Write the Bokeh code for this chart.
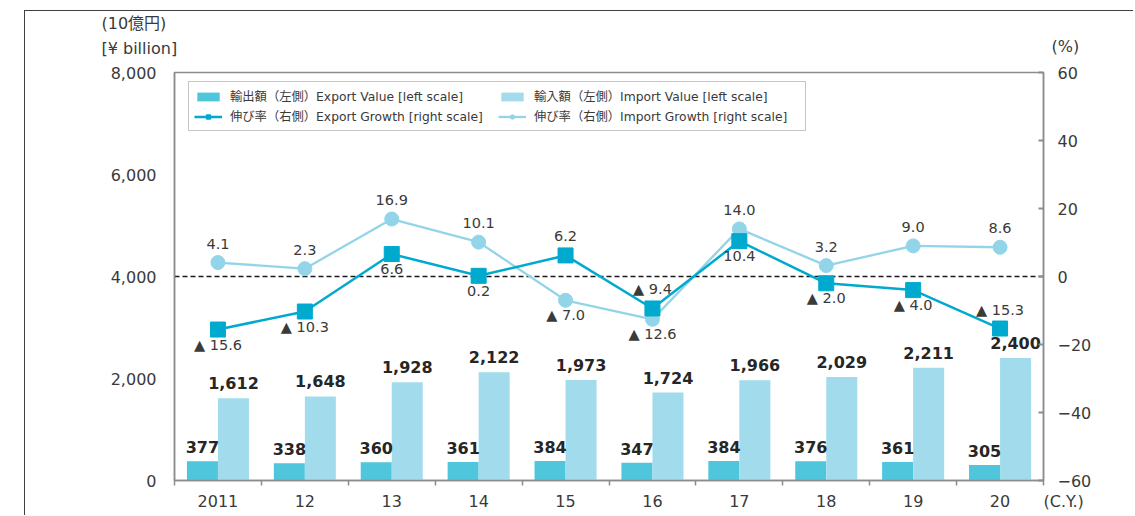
from bokeh.plotting import figure
from bokeh.models import (Range1d, LinearAxis, FixedTicker, Span, Label, Legend,
                          LegendItem, ColumnDataSource, NumeralTickFormatter)
from bokeh.transform import dodge
from bokeh.core.properties import value
from bokeh.embed import file_html
from bokeh.resources import INLINE

# ---------------- data ----------------
years = ["2011", "12", "13", "14", "15", "16", "17", "18", "19", "20"]
export_value = [377, 338, 360, 361, 384, 347, 384, 376, 361, 305]
import_value = [1612, 1648, 1928, 2122, 1973, 1724, 1966, 2029, 2211, 2400]
export_growth = [-15.6, -10.3, 6.6, 0.2, 6.2, -9.4, 10.4, -2.0, -4.0, -15.3]
import_growth = [4.1, 2.3, 16.9, 10.1, -7.0, -12.6, 14.0, 3.2, 9.0, 8.6]
export_label_above = [False, False, False, False, True, True, False, False, False, True]
import_label_above = [True, True, True, True, False, False, True, True, True, True]
left_ticks = [0, 2000, 4000, 6000, 8000]
right_ticks = [-60, -40, -20, 0, 20, 40, 60]

legend_labels = [
    "輸出額（左側）Export Value [left scale]",
    "輸入額（左側）Import Value [left scale]",
    "伸び率（右側）Export Growth [right scale]",
    "伸び率（右側）Import Growth [right scale]",
]

# ---------------- styles ----------------
FONT = "DejaVu Sans, Noto Sans CJK JP"
TXT = "#3a3a3a"
AX = "#8c8c8c"
C_EXP_BAR = "#4fc6dc"
C_IMP_BAR = "#a2dcec"
C_EXP_LINE = "#00a9ce"
C_IMP_LINE = "#93d5e8"


def fmt_pct(v):
    return f"▲ {abs(v):.1f}" if v < 0 else f"{v:.1f}"


idx = list(range(len(years)))
src = ColumnDataSource(dict(
    x=idx,
    exp=export_value,
    imp=import_value,
    exp_lbl=[f"{v:,}" for v in export_value],
    imp_lbl=[f"{v:,}" for v in import_value],
    eg=export_growth,
    ig=import_growth,
))

p = figure(width=1109, height=505,
           x_range=Range1d(-0.5, len(years) - 0.5), y_range=Range1d(0, 8000),
           output_backend="svg", toolbar_location=None,
           min_border_left=149, min_border_right=91, min_border_top=61, min_border_bottom=36,
           margin=(10, 0, 0, 24),
           styles={"border-top": "1px solid #404040", "border-left": "1px solid #404040"},
           background_fill_color="white", border_fill_color="white",
           outline_line_color=AX, outline_line_width=1.5)
p.grid.visible = False
p.extra_y_ranges = {"pct": Range1d(-60, 60)}

# left axis
ya = p.yaxis[0]
ya.ticker = FixedTicker(ticks=left_ticks)
ya.formatter = NumeralTickFormatter(format="0,0")
ya.major_tick_in = 0
ya.major_tick_out = 0
ya.minor_tick_in = 0
ya.minor_tick_out = 0
ya.axis_line_color = AX
ya.axis_line_width = 1.5
ya.major_label_standoff = 18
ya.major_label_text_font = FONT
ya.major_label_text_font_size = "16px"
ya.major_label_text_color = TXT

# right axis
ra = LinearAxis(y_range_name="pct", ticker=FixedTicker(ticks=right_ticks),
                major_tick_in=5, major_tick_out=0, minor_tick_in=0, minor_tick_out=0,
                axis_line_color=AX, axis_line_width=1.5,
                major_tick_line_color=AX, major_tick_line_width=2,
                major_label_standoff=14, major_label_text_font=FONT,
                major_label_text_font_size="16px", major_label_text_color=TXT)
p.add_layout(ra, "right")

# bottom axis
xa = p.xaxis[0]
xa.ticker = FixedTicker(ticks=idx, minor_ticks=[i - 0.5 for i in range(len(years) + 1)])
xa.major_label_overrides = {i: y for i, y in zip(idx, years)}
xa.major_tick_in = 0
xa.major_tick_out = 0
xa.minor_tick_in = 0
xa.minor_tick_out = 5
xa.minor_tick_line_color = AX
xa.minor_tick_line_width = 1.5
xa.axis_line_color = AX
xa.axis_line_width = 1.5
xa.major_label_standoff = 9
xa.major_label_text_font = FONT
xa.major_label_text_font_size = "16px"
xa.major_label_text_color = TXT

# zero line on right scale
p.add_layout(Span(location=0, dimension="width", y_range_name="pct",
                  line_color="#1a1a1a", line_dash="5 3", line_width=1.3, level="underlay"))

# bars
BW = 0.357
r_exp = p.vbar(x=dodge("x", -BW / 2, range=p.x_range), top="exp", width=BW, bottom=0,
               source=src, fill_color=C_EXP_BAR, line_color=None)
r_imp = p.vbar(x=dodge("x", BW / 2, range=p.x_range), top="imp", width=BW, bottom=0,
               source=src, fill_color=C_IMP_BAR, line_color=None)

p.text(x=dodge("x", -BW / 2, range=p.x_range), y="exp", text="exp_lbl", source=src,
       text_align="center", text_baseline="alphabetic", y_offset=-14,
       text_font=value("DejaVu Sans"), text_font_style="bold",
       text_font_size="16px", text_color="#262626")
p.text(x=dodge("x", BW / 2, range=p.x_range), y="imp", text="imp_lbl", source=src,
       text_align="center", text_baseline="alphabetic", y_offset=-15,
       text_font=value("DejaVu Sans"), text_font_style="bold",
       text_font_size="16px", text_color="#262626")

# lines
l_imp = p.line(x="x", y="ig", source=src, y_range_name="pct", line_color=C_IMP_LINE, line_width=2.3)
m_imp = p.scatter(x="x", y="ig", source=src, y_range_name="pct", marker="circle", size=14,
                  fill_color=C_IMP_LINE, line_color=C_IMP_LINE)
l_exp = p.line(x="x", y="eg", source=src, y_range_name="pct", line_color=C_EXP_LINE, line_width=2.5)
m_exp = p.scatter(x="x", y="eg", source=src, y_range_name="pct", marker="square", size=15,
                  fill_color=C_EXP_LINE, line_color=C_EXP_LINE)


def growth_labels(vals, above):
    up = ColumnDataSource(dict(x=[i for i in idx if above[i]], y=[vals[i] for i in idx if above[i]],
                               t=[fmt_pct(vals[i]) for i in idx if above[i]]))
    dn = ColumnDataSource(dict(x=[i for i in idx if not above[i]], y=[vals[i] for i in idx if not above[i]],
                               t=[fmt_pct(vals[i]) for i in idx if not above[i]]))
    for s, off in ((up, -19), (dn, 15)):
        p.text(x="x", y="y", text="t", source=s, y_range_name="pct",
               text_align="center", text_baseline="alphabetic", y_offset=off,
               text_font=value(FONT), text_font_size="14.5px", text_color=TXT)


growth_labels(import_growth, import_label_above)
growth_labels(export_growth, export_label_above)

# legend
legend = Legend(items=[
    LegendItem(label=legend_labels[0], renderers=[r_exp]),
    LegendItem(label=legend_labels[1], renderers=[r_imp]),
    LegendItem(label=legend_labels[2], renderers=[l_exp, m_exp]),
    LegendItem(label=legend_labels[3], renderers=[l_imp, m_imp]),
], ncols=2, location=(14, 349), orientation="horizontal",
    label_text_font=FONT, label_text_font_size="12.3px", label_text_color=TXT,
    glyph_width=28, glyph_height=11, label_standoff=8, label_width=266, label_height=14,
    spacing=2, padding=5, margin=0,
    border_line_color=AX, border_line_width=1.5, background_fill_color="white",
    background_fill_alpha=1.0)
p.add_layout(legend, "center")

# unit labels (placed in side panels so they are not clipped by the frame)
for txt, xx, yy, xo, yo, rng, side in [
    ("(10億円)", -0.5, 8000, -73, 49, "default", "above"),
    ("[¥ billion]", -0.5, 8000, -73, 24, "default", "above"),
    ("(%)", len(years) - 0.5, 60, 8, 26, "pct", "above"),
    ("(C.Y.)", len(years) - 0.5, -60, 0, -21, "pct", "left"),
]:
    p.add_layout(Label(x=xx, y=yy, text=txt, x_offset=xo, y_offset=yo, y_range_name=rng,
                       text_align="left", text_baseline="middle", text_font=FONT,
                       text_font_size="16px", text_color=TXT), side)

open("out.html", "w").write(file_html(p, INLINE))
